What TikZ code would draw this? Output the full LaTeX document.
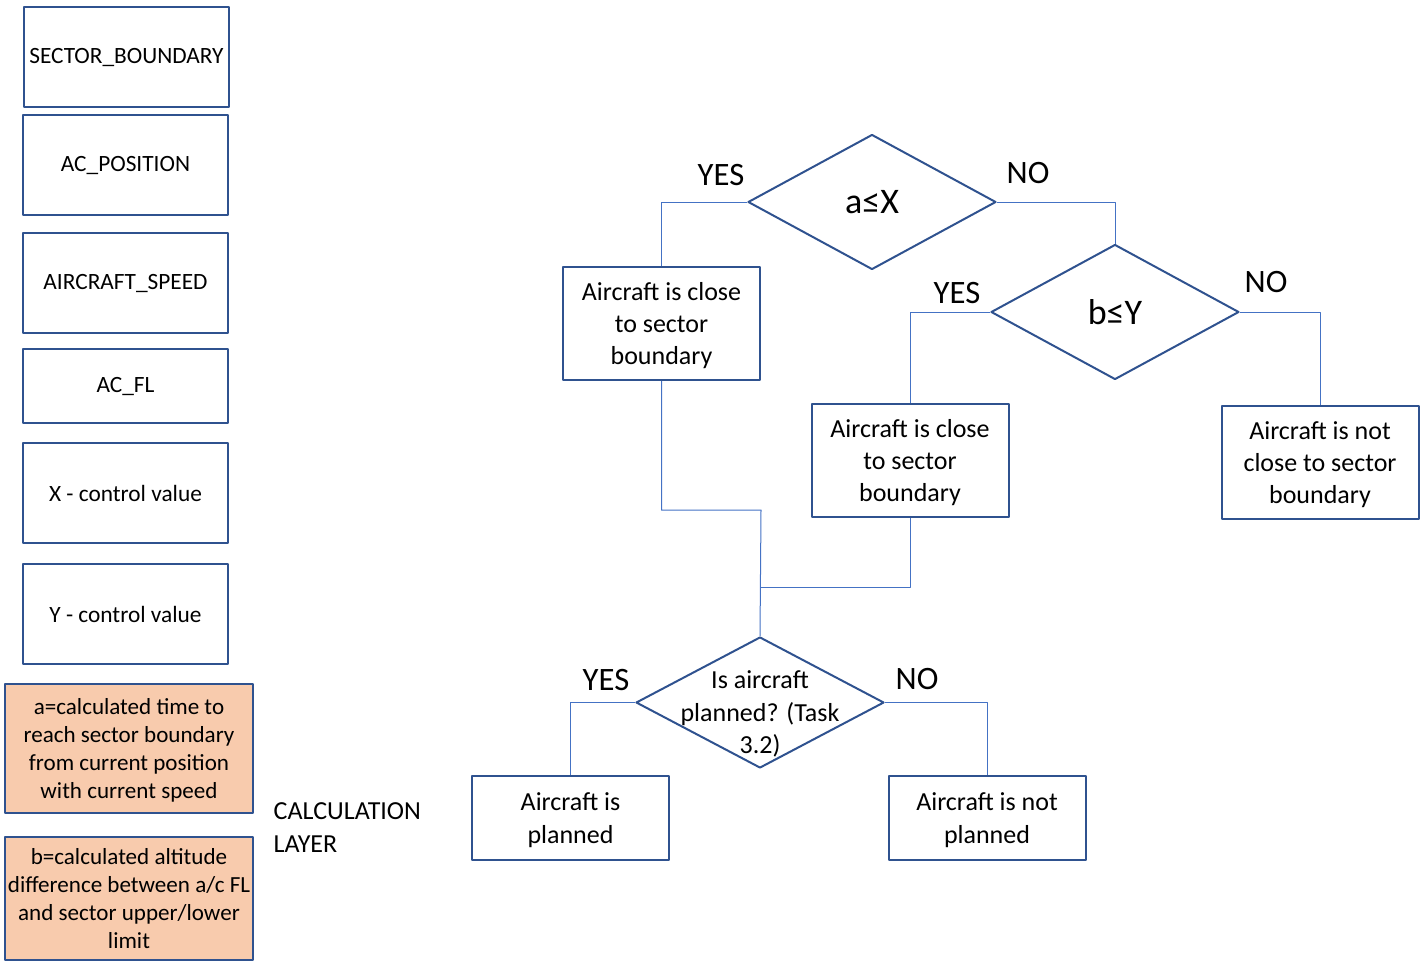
\documentclass[tikz,border=0pt]{standalone}
\usepackage{fontspec}
\setmainfont{Carlito}
\usetikzlibrary{shapes.geometric}
\definecolor{boxblue}{HTML}{2F528F}
\definecolor{linkblue}{HTML}{4472C4}
\definecolor{calcfill}{HTML}{F8CBAD}
\newlength\pxu \setlength\pxu{0.75pt}
\begin{document}
\begin{tikzpicture}[x=0.75pt,y=-0.75pt, line join=round]
	\tikzset{
		input box/.style={draw=boxblue, line width=1.5pt, minimum width=205\pxu, minimum height=100\pxu, inner sep=0pt, font=\fontsize{17.5}{21}\selectfont},
		calc box/.style={draw=boxblue, fill=calcfill, line width=1.5pt, minimum width=248\pxu, align=center, inner sep=0pt, text depth=-7\pxu, font=\fontsize{17.3}{21}\selectfont},
		result box/.style={draw=boxblue, line width=1.5pt, minimum width=197\pxu, minimum height=113\pxu, align=center, inner sep=0pt, text depth=-11\pxu, font=\fontsize{19.5}{24.3}\selectfont},
		decision/.style={diamond, draw=boxblue, line width=1.5pt, minimum width=248\pxu, minimum height=135\pxu, inner sep=0pt, font=\fontsize{27}{32}\selectfont},
		answer/.style={font=\fontsize{24.5}{29}\selectfont},
		link/.style={draw=linkblue, line width=0.75pt},
	}
	\useasboundingbox (0,0) rectangle (1423,961);
	% inputs and calculated values
	\node[input box] (sb) at (126.5,57) {SECTOR\_BOUNDARY};
	\node[input box] (acp) at (125.5,165) {AC\_POSITION};
	\node[input box] (spd) at (125.5,283) {AIRCRAFT\_SPEED};
	\node[input box, minimum height=74\pxu] (fl) at (125.5,386) {AC\_FL};
	\node[input box] (xcv) at (125.5,493) {X - control value};
	\node[input box] (ycv) at (125.5,614) {Y - control value};
	\node[calc box, minimum height=129\pxu] (calca) at (129,748.5) {a=calculated time to\\reach sector boundary\\from current position\\with current speed};
	\node[calc box, minimum height=123\pxu] (calcb) at (129,898.5) {b=calculated altitude\\difference between a/c FL\\and sector upper/lower\\limit};
	\node[anchor=west, align=left, font=\fontsize{19.5}{24.75}\selectfont] (layer) at (269,828) {CALCULATION\\LAYER};
	% decisions
	\node[decision] (qa) at (872,202) {a≤X};
	\node[decision] (qb) at (1115,312) {b≤Y};
	\node[decision, minimum height=131\pxu] (qp) at (760,702.5) {};
	\node[align=center, font=\fontsize{19.5}{24.3}\selectfont] (qptext) at (760,714) {Is aircraft\\planned? (Task\\3.2)};
	% outcomes
	\node[result box] (close1) at (661.5,323.5) {Aircraft is close\\to sector\\boundary};
	\node[result box] (close2) at (910,460.5) {Aircraft is close\\to sector\\boundary};
	\node[result box] (notclose) at (1320,462.5) {Aircraft is not\\close to sector\\boundary};
	\node[result box, minimum height=84\pxu] (planned) at (570.5,818) {Aircraft is\\planned};
	\node[result box, minimum height=84\pxu] (notplanned) at (987,818) {Aircraft is not\\planned};
	\coordinate (m1) at (761,510);
	\coordinate (m2) at (761,587);
	\draw[link] (qa.west) -| (close1.north);
	\draw[link] (qa.east) -| (qb.north);
	\draw[link] (qb.west) -| (close2.north);
	\draw[link] (qb.east) -| (notclose.north);
	\draw[link] (close1.south) |- (m1) -- (qp.north);
	\draw[link] (close2.south) |- (m2);
	\draw[link] (qp.west) -| (planned.north);
	\draw[link] (qp.east) -| (notplanned.north);
	\node[answer] at (721,175) {YES};
	\node[answer] at (1028,173) {NO};
	\node[answer] at (957,293) {YES};
	\node[answer] at (1266,282) {NO};
	\node[answer] at (606,680) {YES};
	\node[answer] at (917,679) {NO};
\end{tikzpicture}
\end{document}
